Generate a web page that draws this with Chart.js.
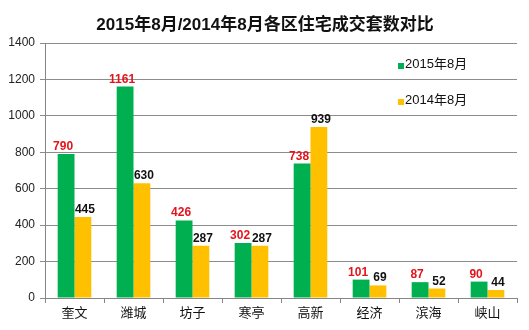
<!DOCTYPE html>
<html>
<head>
<meta charset="utf-8">
<script src="https://cdn.jsdelivr.net/npm/chart.js@4/dist/chart.umd.min.js"></script>
<style>
  html, body { margin: 0; padding: 0; background: #fff; }
  canvas { display: block; }
</style>
</head>
<body>
<canvas id="chartCanvas" width="529" height="330"></canvas>
<script>
const titleText = "2015年8月/2014年8月各区住宅成交套数对比";
const districts = ["奎文", "潍城", "坊子", "寒亭", "高新", "经济", "滨海", "峡山"];
const aug2015 = [790, 1161, 426, 302, 738, 101, 87, 90];
const aug2014 = [445, 630, 287, 287, 939, 69, 52, 44];
const seriesNames = ["2015年8月", "2014年8月"];
const seriesColors = ["#00B050", "#FFC000"];
const labelColors = ["#E3141B", "#111111"];

const FONT = "'Liberation Sans', 'Noto Sans CJK SC', sans-serif";

// title, value labels and the in-plot legend
const decorations = {
    id: "decorations",
    afterDatasetsDraw(chart) {
        const ctx = chart.ctx;
        const area = chart.chartArea;
        ctx.save();

        ctx.fillStyle = "#111";
        ctx.font = "bold 17px " + FONT;
        ctx.textAlign = "center";
        ctx.textBaseline = "middle";
        ctx.fillText(titleText, 265, 25);

        ctx.font = "bold 12px " + FONT;
        ctx.textBaseline = "alphabetic";
        chart.data.datasets.forEach((ds, i) => {
            const meta = chart.getDatasetMeta(i);
            ctx.fillStyle = labelColors[i];
            meta.data.forEach((bar, j) => {
                const dx = i === 0 ? -3 : 2;
                ctx.fillText(String(ds.data[j]), bar.x + dx, bar.y - 4);
            });
        });

        ctx.font = "13px " + FONT;
        ctx.textAlign = "left";
        ctx.textBaseline = "middle";
        seriesNames.forEach((name, i) => {
            const y = area.top + 23 + i * 36;
            ctx.fillStyle = seriesColors[i];
            ctx.fillRect(398, y - 3, 6, 6);
            ctx.fillStyle = "#111";
            ctx.fillText(name, 405, y - 2);
        });
        ctx.restore();
    }
};

new Chart(document.getElementById("chartCanvas").getContext("2d"), {
    type: "bar",
    data: {
        labels: districts,
        datasets: [
            { label: seriesNames[0], data: aug2015, backgroundColor: seriesColors[0] },
            { label: seriesNames[1], data: aug2014, backgroundColor: seriesColors[1] },
        ],
    },
    options: {
        responsive: false,
        animation: false,
        layout: { padding: { top: 43, right: 12, left: 0, bottom: 0 } },
        datasets: { bar: { categoryPercentage: 0.57, barPercentage: 1.0 } },
        plugins: {
            legend: { display: false },
            title: { display: false },
            tooltip: { enabled: false },
        },
        scales: {
            x: {
                grid: { drawOnChartArea: false, offset: true, color: "#868686", tickLength: 5 },
                border: { color: "#868686" },
                ticks: { color: "#111", font: { family: FONT, size: 13 }, padding: 3 },
                afterFit(scale) { scale.height = 32; },
            },
            y: {
                min: 0,
                max: 1400,
                ticks: {
                    stepSize: 200,
                    color: "#222",
                    font: { family: FONT, size: 12 },
                    padding: 5,
                    callback: (v) => String(v),
                },
                grid: { color: "#8c8c8c", tickLength: 5 },
                border: { color: "#868686" },
                afterFit(scale) { scale.width = 45; },
            },
        },
    },
    plugins: [decorations],
});
</script>
</body>
</html>
